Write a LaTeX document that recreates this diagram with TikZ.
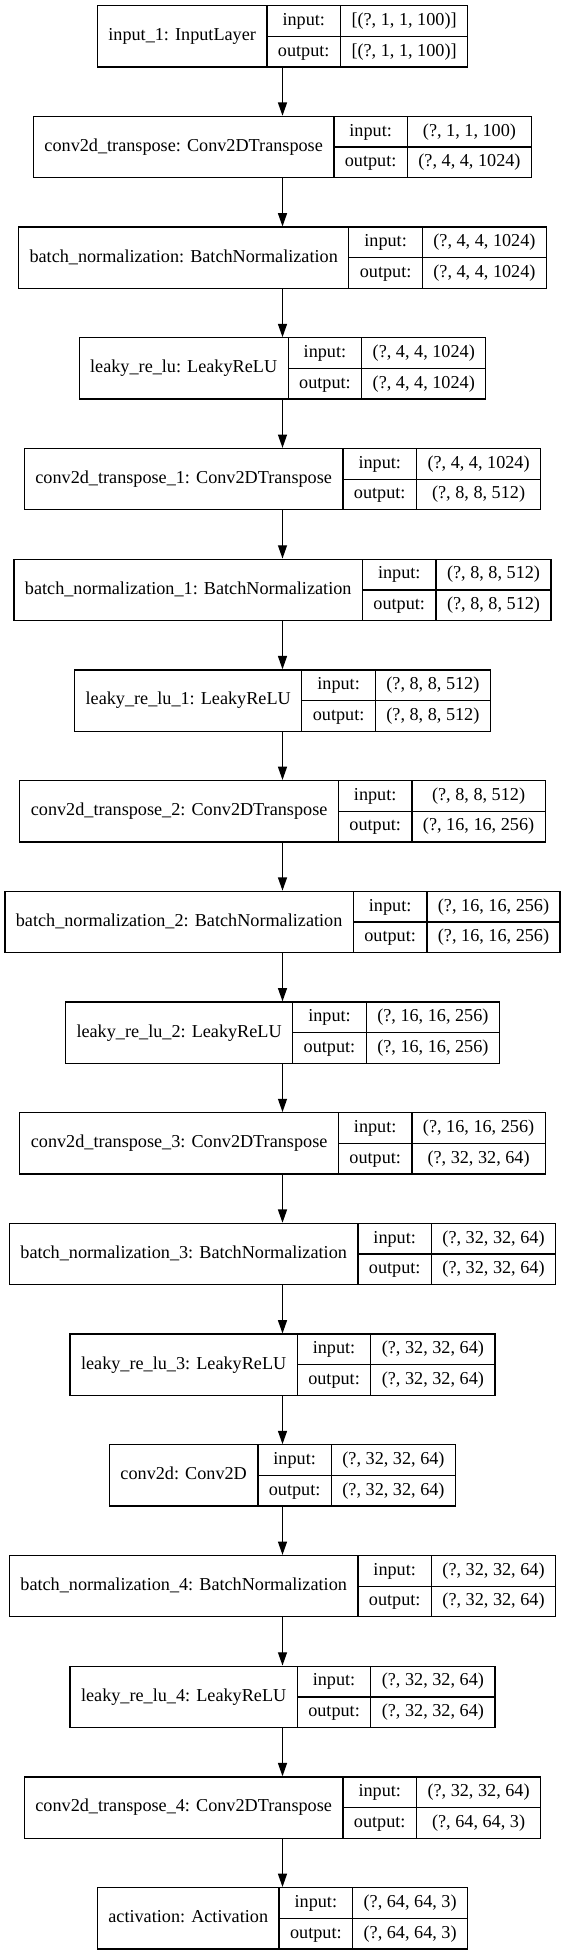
\documentclass[tikz,border=0pt]{standalone}
\usepackage{fontspec}
\setmainfont{Liberation Serif}
\usetikzlibrary{arrows.meta}
\newdimen\kwA
\newdimen\kwB
\newdimen\kwC
\newdimen\kwD
\newbox\kbA
\newbox\kbB
\newbox\kbC
\newbox\kbD
\newcommand\kfont{\fontsize{18.2}{22}\selectfont}
% #1 name, #2 label, #3 input shape, #4 output shape, #5 rank (0-based)
\newcommand\kerasLayer[5]{%
  \pgfinterruptpicture
    \global\setbox\kbA=\hbox{\kfont #2}%
    \global\setbox\kbB=\hbox{\kfont output:}%
    \global\setbox\kbC=\hbox{\kfont #3}%
    \global\setbox\kbD=\hbox{\kfont #4}%
  \endpgfinterruptpicture
  \kwA=\wd\kbA \kwB=\wd\kbB \kwC=\wd\kbC \kwD=\wd\kbD
  \ifdim\kwD>\kwC \kwC=\kwD \fi
  \pgfmathsetmacro\wa{\the\kwA+22}%
  \pgfmathsetmacro\wb{\the\kwB+22}%
  \pgfmathsetmacro\wc{\the\kwC+22}%
  \pgfmathsetmacro\wt{\wa+\wb+\wc}%
  \pgfmathsetmacro\yc{36.35+#5*110.7}%
  \pgfmathsetmacro\yT{\yc-30.65}%
  \pgfmathsetmacro\yB{\yc+30.65}%
  \pgfmathsetmacro\yI{\yc-15.33}%
  \pgfmathsetmacro\yO{\yc+15.33}%
  \pgfmathsetmacro\xL{282.5-\wt/2}%
  \pgfmathsetmacro\xa{\xL+\wa}%
  \pgfmathsetmacro\xb{\xa+\wb}%
  \pgfmathsetmacro\xR{\xL+\wt}%
  \node[layerbox, minimum width=\wt pt] (#1) at (282.5,\yc) {};
  \draw[divider] (\xa,\yT) -- (\xa,\yB);
  \draw[divider] (\xb,\yT) -- (\xb,\yB);
  \draw[divider] (\xa,\yc) -- (\xR,\yc);
  \node[celltext] (#1l) at ({(\xL+\xa)/2},\yc) {#2};
  \node[celltext] (#1i) at ({(\xa+\xb)/2},\yI) {input:};
  \node[celltext] (#1o) at ({(\xa+\xb)/2},\yO) {output:};
  \node[celltext] (#1iv) at ({(\xb+\xR)/2},\yI) {#3};
  \node[celltext] (#1ov) at ({(\xb+\xR)/2},\yO) {#4};
}
\begin{document}
\begin{tikzpicture}[x=1pt,y=-1pt,
  every node/.style={font=\kfont},
  celltext/.style={inner sep=0pt, text height=12.6pt, text depth=3.8pt},
  layerbox/.style={draw=black, line width=1.3pt, minimum height=61.3pt, inner sep=0pt},
  divider/.style={draw=black, line width=1.3pt},
  edge/.style={draw=black, line width=1.3pt, -{Triangle[length=13.3pt,width=9pt]}}]
\useasboundingbox (0,0) rectangle (565,1955);
\kerasLayer{n1}{input\_1: InputLayer}{[(?, 1, 1, 100)]}{[(?, 1, 1, 100)]}{0}
\kerasLayer{n2}{conv2d\_transpose: Conv2DTranspose}{(?, 1, 1, 100)}{(?, 4, 4, 1024)}{1}
\kerasLayer{n3}{batch\_normalization: BatchNormalization}{(?, 4, 4, 1024)}{(?, 4, 4, 1024)}{2}
\kerasLayer{n4}{leaky\_re\_lu: LeakyReLU}{(?, 4, 4, 1024)}{(?, 4, 4, 1024)}{3}
\kerasLayer{n5}{conv2d\_transpose\_1: Conv2DTranspose}{(?, 4, 4, 1024)}{(?, 8, 8, 512)}{4}
\kerasLayer{n6}{batch\_normalization\_1: BatchNormalization}{(?, 8, 8, 512)}{(?, 8, 8, 512)}{5}
\kerasLayer{n7}{leaky\_re\_lu\_1: LeakyReLU}{(?, 8, 8, 512)}{(?, 8, 8, 512)}{6}
\kerasLayer{n8}{conv2d\_transpose\_2: Conv2DTranspose}{(?, 8, 8, 512)}{(?, 16, 16, 256)}{7}
\kerasLayer{n9}{batch\_normalization\_2: BatchNormalization}{(?, 16, 16, 256)}{(?, 16, 16, 256)}{8}
\kerasLayer{n10}{leaky\_re\_lu\_2: LeakyReLU}{(?, 16, 16, 256)}{(?, 16, 16, 256)}{9}
\kerasLayer{n11}{conv2d\_transpose\_3: Conv2DTranspose}{(?, 16, 16, 256)}{(?, 32, 32, 64)}{10}
\kerasLayer{n12}{batch\_normalization\_3: BatchNormalization}{(?, 32, 32, 64)}{(?, 32, 32, 64)}{11}
\kerasLayer{n13}{leaky\_re\_lu\_3: LeakyReLU}{(?, 32, 32, 64)}{(?, 32, 32, 64)}{12}
\kerasLayer{n14}{conv2d: Conv2D}{(?, 32, 32, 64)}{(?, 32, 32, 64)}{13}
\kerasLayer{n15}{batch\_normalization\_4: BatchNormalization}{(?, 32, 32, 64)}{(?, 32, 32, 64)}{14}
\kerasLayer{n16}{leaky\_re\_lu\_4: LeakyReLU}{(?, 32, 32, 64)}{(?, 32, 32, 64)}{15}
\kerasLayer{n17}{conv2d\_transpose\_4: Conv2DTranspose}{(?, 32, 32, 64)}{(?, 64, 64, 3)}{16}
\kerasLayer{n18}{activation: Activation}{(?, 64, 64, 3)}{(?, 64, 64, 3)}{17}
\foreach \a/\b in {n1/n2,n2/n3,n3/n4,n4/n5,n5/n6,n6/n7,n7/n8,n8/n9,n9/n10,n10/n11,n11/n12,n12/n13,n13/n14,n14/n15,n15/n16,n16/n17,n17/n18}
  \draw[edge] (\a.south) -- (\b.north);
\end{tikzpicture}
\end{document}
